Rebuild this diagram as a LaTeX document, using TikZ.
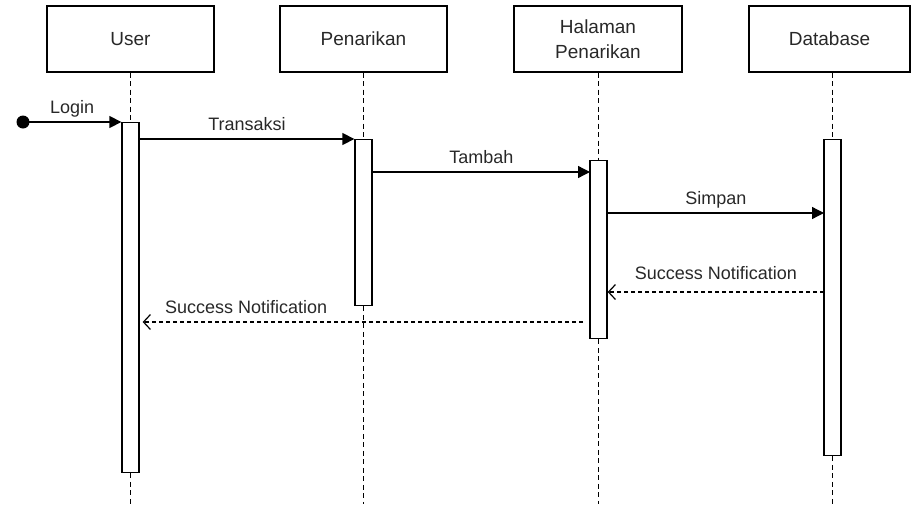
\documentclass[tikz,border=0pt]{standalone}
\usepackage{fontspec}
\setmainfont{Liberation Sans}
\usepackage{xcolor}
\usetikzlibrary{arrows.meta}
\definecolor{cTxt}{RGB}{40,40,40}

\begin{document}
\begin{tikzpicture}[x=1pt,y=-1pt,
  head/.style={draw,line width=1.3pt,minimum width=167pt,minimum height=66pt,inner sep=0pt,
    text=cTxt,align=center,font=\fontsize{19}{25}\selectfont},
  bar/.style={draw,fill=white,line width=1.3pt,minimum width=17pt,inner sep=0pt,anchor=north},
  life/.style={line width=1.1pt,dash pattern=on 5pt off 3.5pt},
  call/.style={line width=1.3pt,-{Triangle[length=12pt,width=12pt]}},
  reply/.style={line width=1.2pt,dash pattern=on 4pt off 3pt,-{Straight Barb[length=7pt,width=15pt]}},
  lbl/.style={anchor=base,yshift=9pt,text=cTxt,font=\fontsize{18}{22}\selectfont}]
\useasboundingbox (0,0) rectangle (911,504);
\coordinate (bot) at (0,504);
\node[head] (user) at (130.5,39) {User};
\node[head] (pen) at (363.5,39) {Penarikan};
\node[head,minimum width=168pt] (hal) at (598,39) {Halaman\\Penarikan};
\node[head,minimum width=161pt] (db) at (829.5,39) {Database};
\node[bar,minimum height=350pt] (barU) at (130.5,122) {};
\node[bar,minimum height=166pt] (barP) at (363.5,139) {};
\node[bar,minimum height=178pt] (barH) at (598.5,160) {};
\node[bar,minimum height=316pt] (barD) at (832.5,139) {};
\draw[life] (barU |- user.south) -- (barU.north);
\draw[life] (barU.south) -- (barU |- bot);
\draw[life] (barP |- pen.south) -- (barP.north);
\draw[life] (barP.south) -- (barP |- bot);
\draw[life] (barH |- hal.south) -- (barH.north);
\draw[life] (barH.south) -- (barH |- bot);
\draw[life] (barD |- db.south) -- (barD.north);
\draw[life] (barD.south) -- (barD |- bot);
\node[circle,fill,inner sep=0pt,minimum size=13pt] (start) at (23,122) {};
\coordinate (tb) at (590,172);
\coordinate (sp) at (824,213);
\coordinate (sn1) at (824,292);
\coordinate (sn2) at (583,322);
\draw[call] (start.center) -- (barU.north west) node[lbl,midway] (lLogin) {Login};
\draw[call] (barU.east |- barP.north) -- (barP.north west) node[lbl,midway] (lTrans) {Transaksi};
\draw[call] (barP.east |- tb) -- (tb) node[lbl,midway] (lTambah) {Tambah};
\draw[call] (barH.east |- sp) -- (sp) node[lbl,midway] (lSimpan) {Simpan};
\draw[reply] (sn1) -- (barH.east |- sn1) node[lbl,midway,yshift=3.5pt] (lSn1) {Success Notification};
\draw[reply,shorten >=3pt] (sn2) -- (barU.east |- sn2) node[lbl,pos=0.76] (lSn2) {Success Notification};
\end{tikzpicture}
\end{document}
